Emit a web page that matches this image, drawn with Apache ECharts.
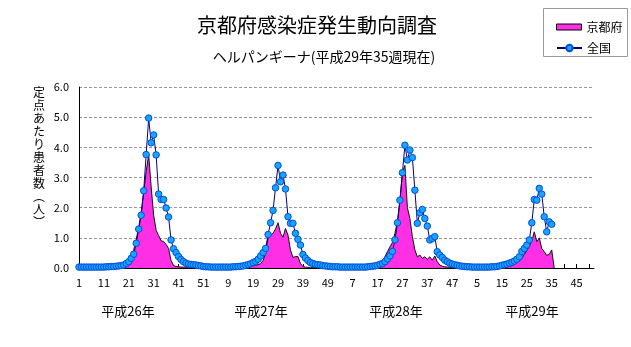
<!DOCTYPE html>
<html><head><meta charset="utf-8">
<script src="https://cdn.jsdelivr.net/npm/echarts@6/dist/echarts.min.js"></script>
<style>html,body{margin:0;padding:0;background:#fff}#c{width:631px;height:347px}</style>
</head><body><div id="c"></div>
<script>
const FONT = '"Noto Sans CJK JP", "Noto Sans", sans-serif';
const titleText = '京都府感染症発生動向調査';
const subtitleText = 'ヘルパンギーナ(平成29年35週現在)';
const yAxisName = '定点あたり患者数(人)';
const seriesNames = ['京都府', '全国'];
const yearLabels = ['平成26年', '平成27年', '平成28年', '平成29年'];
const weeksPerYear = 52;

const kyoto2014 = [0.02,0.02,0.02,0.01,0.02,0.02,0.02,0.02,0.01,0.02,0.02,0.02,0.02,0.02,0.03,0.03,
  0.04,0.06,0.09,0.14,0.22,0.35,0.60,0.95,1.35,1.85,2.50,3.20,3.75,2.70,
  1.75,1.25,1.08,0.90,0.88,0.78,0.65,0.25,0.08,0.05,
  0.04,0.03,0.03,0.03,0.02,0.02,0.02,0.02,0.02,0.02,0.02,0.02];
const kyoto2015 = [0.02,0.02,0.02,0.02,0.02,0.02,0.02,0.01,0.02,0.02,0.02,0.02,0.02,0.02,0.02,0.02,
  0.03,0.05,0.07,0.09,0.11,0.14,0.25,0.50,1.00,1.09,1.15,1.30,1.50,1.15,
  1.02,1.31,1.09,0.60,0.35,0.38,0.38,0.15,0.05,0.03,
  0.02,0.02,0.02,0.02,0.02,0.02,0.02,0.02,0.02,0.02,0.02,0.02];
const kyoto2016 = [0.02,0.02,0.02,0.02,0.02,0.02,0.02,0.02,0.02,0.02,0.02,0.02,0.02,0.03,0.04,0.05,
  0.07,0.10,0.22,0.38,0.55,0.70,0.85,1.15,1.55,2.25,3.15,3.40,2.00,1.64,
  1.04,0.60,0.37,0.43,0.32,0.37,0.29,0.37,0.26,0.40,
  0.21,0.10,0.06,0.04,0.03,0.03,0.02,0.02,0.02,0.02,0.02,0.02];
const kyoto2017 = [0.02,0.02,0.02,0.02,0.02,0.02,0.02,0.02,0.02,0.02,0.02,0.02,0.02,0.02,
  0.04,0.22,0.04,0.05,0.08,0.12,0.18,0.24,0.32,0.45,0.58,0.72,0.90,1.20,0.87,1.00,
  0.65,0.54,0.42,0.45,0.60,0];

const national2014 = [0.03,0.03,0.03,0.03,0.03,0.03,0.03,0.03,0.03,0.03,0.03,0.04,0.04,0.05,0.05,0.06,
  0.07,0.08,0.10,0.15,0.21,0.32,0.46,0.82,1.29,1.75,2.56,3.76,4.97,4.15,
  4.41,3.75,2.45,2.27,2.27,1.99,1.69,0.93,0.64,0.51,
  0.38,0.28,0.21,0.16,0.13,0.12,0.11,0.10,0.08,0.07,0.05,0.04];
const national2015 = [0.04,0.03,0.03,0.03,0.03,0.03,0.03,0.03,0.03,0.03,0.04,0.04,0.05,0.06,0.07,0.09,
  0.11,0.14,0.18,0.22,0.29,0.40,0.51,0.65,1.11,1.50,1.91,2.66,3.40,2.86,
  3.08,2.62,1.70,1.48,1.48,1.15,0.95,0.76,0.45,0.33,
  0.25,0.18,0.15,0.12,0.11,0.10,0.08,0.07,0.06,0.05,0.04,0.04];
const national2016 = [0.04,0.03,0.03,0.03,0.03,0.03,0.03,0.03,0.03,0.03,0.03,0.03,0.04,0.05,0.06,0.07,
  0.09,0.12,0.15,0.21,0.30,0.40,0.55,0.93,1.50,2.25,3.16,4.07,3.58,3.91,
  3.66,2.58,1.48,1.83,1.94,1.64,1.39,0.93,0.98,1.04,
  0.54,0.43,0.35,0.26,0.21,0.16,0.13,0.11,0.09,0.07,0.06,0.05];
const national2017 = [0.04,0.04,0.03,0.03,0.03,0.03,0.03,0.03,0.03,0.03,0.04,0.04,
  0.05,0.07,0.09,0.11,0.13,0.16,0.19,0.23,0.29,0.37,0.55,0.65,0.76,0.93,
  1.50,2.27,2.25,2.64,2.45,1.70,1.20,1.53,1.45];

// build category axis (4 years x 52 weeks)
const categories = [];
for (let y = 0; y < yearLabels.length; y++) {
  for (let w = 1; w <= weeksPerYear; w++) categories.push(String(w));
}
const kyoto = [].concat(kyoto2014, kyoto2015, kyoto2016, kyoto2017);
const national = [].concat(national2014, national2015, national2016, national2017);

const chart = echarts.init(document.getElementById('c'), null, {renderer: 'canvas'});

const vertName = yAxisName.replace('(', '︵').replace(')', '︶').split('').join('\n');
const yearX = [128, 261, 396, 532];

chart.setOption({
  animation: false,
  backgroundColor: '#fff',
  textStyle: {fontFamily: FONT},
  title: [
    {text: titleText, left: 312, top: 10, textAlign: 'center',
     textStyle: {fontSize: 20, fontWeight: 'normal', color: '#000', fontFamily: FONT}},
    {text: subtitleText, left: 319, top: 45, textAlign: 'center',
     textStyle: {fontSize: 14, fontWeight: 'normal', color: '#000', fontFamily: FONT}}
  ],
  legend: [
    {data: [{name: seriesNames[0], icon: 'rect', itemStyle: {color: '#FF2FE6', borderColor: '#000', borderWidth: 1}}],
     left: 551, top: 16, itemWidth: 25, itemHeight: 6, itemGap: 4,
     textStyle: {fontSize: 12, color: '#000', fontFamily: FONT}},
    {data: [seriesNames[1]], left: 551, top: 37, itemWidth: 25, itemHeight: 8,
     textStyle: {fontSize: 12, color: '#000', fontFamily: FONT}}
  ],
  graphic: [
    {type: 'rect', shape: {x: 543.5, y: 8.5, width: 84, height: 48},
     style: {fill: '#fff', stroke: '#999', lineWidth: 1}, z: 0},
    {type: 'text', x: 39, y: 86, z: 5,
     style: {text: vertName, textAlign: 'center', textVerticalAlign: 'top',
             font: '12px ' + FONT, lineHeight: 13, fill: '#000'}}
  ].concat(yearLabels.map((t, i) => ({
    type: 'text', x: yearX[i], y: 311, z: 5,
    style: {text: t, textAlign: 'center', textVerticalAlign: 'middle',
            font: '13px ' + FONT, fill: '#000'}
  }))),
  grid: {left: 79, right: 37, top: 87, bottom: 79, containLabel: false},
  xAxis: {
    type: 'category', data: categories, boundaryGap: false,
    axisLine: {lineStyle: {color: '#000', width: 1}},
    axisTick: {show: true, inside: true, length: 4, interval: 4, lineStyle: {color: '#000'}},
    axisLabel: {interval: 9, color: '#000', fontSize: 11, margin: 9, fontFamily: FONT},
    splitLine: {show: false}
  },
  yAxis: {
    type: 'value', min: 0, max: 6, interval: 1,
    axisLine: {show: true, lineStyle: {color: '#000', width: 1}},
    axisTick: {show: false},
    axisLabel: {color: '#000', fontSize: 11, margin: 10, fontFamily: FONT,
                formatter: v => v.toFixed(1)},
    splitLine: {show: true, lineStyle: {color: '#999', type: [3, 2], width: 1}}
  },
  series: [
    {name: seriesNames[0], type: 'line', data: kyoto, showSymbol: false, symbol: 'none',
     lineStyle: {color: '#111', width: 1},
     itemStyle: {color: '#FF2FE6'},
     areaStyle: {color: '#FF2FE6', opacity: 1}, z: 2},
    {name: seriesNames[1], type: 'line', data: national, symbol: 'circle', symbolSize: 6.5,
     showSymbol: true, showAllSymbol: true,
     lineStyle: {color: '#000080', width: 1},
     itemStyle: {color: '#1AA3FF', borderColor: '#0050D8', borderWidth: 1}, z: 3}
  ]
});
</script>
</body></html>
